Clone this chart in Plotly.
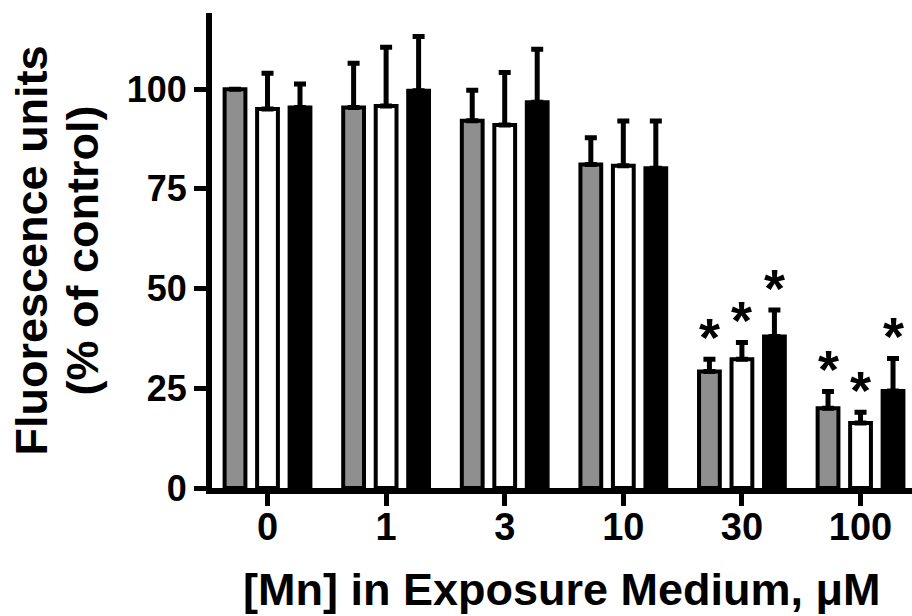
import plotly.graph_objects as go

categories = ["0", "1", "3", "10", "30", "100"]
series_names = ["A", "B", "C"]
gray_vals = [100, 95.4, 92.1, 81.1, 29.2, 20.0]
gray_err = [0, 11.1, 7.6, 6.7, 3.1, 4.2]
white_vals = [95.0, 95.8, 91.0, 80.8, 32.3, 16.3]
white_err = [9.0, 14.7, 13.2, 11.2, 4.2, 2.7]
black_vals = [95.4, 99.6, 96.7, 80.2, 38.0, 24.3]
black_err = [5.9, 13.6, 13.3, 11.8, 6.6, 8.2]
# significance markers (1 = asterisk)
gray_sig = [0, 0, 0, 0, 1, 1]
white_sig = [0, 0, 0, 0, 1, 1]
black_sig = [0, 0, 0, 0, 1, 1]

fills = ["#8f8f8f", "#ffffff", "#000000"]
vals = [gray_vals, white_vals, black_vals]
errs = [gray_err, white_err, black_err]
sigs = [gray_sig, white_sig, black_sig]

FONT = "Liberation Sans, Arial, sans-serif"
BARGAP = 0.178

fig = go.Figure()
for name, v, e, c in zip(series_names, vals, errs, fills):
    fig.add_trace(go.Bar(
        x=categories, y=v, name=name,
        marker=dict(color=c, line=dict(color="black", width=4)),
        error_y=dict(type="data", array=e, arrayminus=[0] * len(e), symmetric=False,
                     color="black", thickness=5, width=6),
    ))

slot = (1 - BARGAP) / 3
annotations = []
for si, (v, e, s) in enumerate(zip(vals, errs, sigs)):
    for ci, flag in enumerate(s):
        if flag:
            annotations.append(dict(
                x=ci + (si - 1) * slot, y=v[ci] + e[ci], xref="x", yref="y",
                text="*", showarrow=False, yanchor="middle", xanchor="center",
                yshift=22, font=dict(family=FONT, size=54, color="black", weight="bold"),
            ))

annotations.append(dict(
    x=0.5, y=0, xref="paper", yref="paper", yanchor="top", xanchor="center",
    yshift=-74, text="[Mn] in Exposure Medium, \u03bcM", showarrow=False,
    font=dict(family=FONT, size=45, color="black", weight="bold"),
))
annotations.append(dict(
    x=(31 - 212) / 700, y=0.5, xref="paper", yref="paper", xanchor="center", yanchor="middle",
    text="Fluorescence units", textangle=-90, showarrow=False,
    font=dict(family=FONT, size=45, color="black", weight="bold"),
))
annotations.append(dict(
    x=(82 - 212) / 700, y=0.5, xref="paper", yref="paper", xanchor="center", yanchor="middle",
    text="(% of control)", textangle=-90, showarrow=False,
    font=dict(family=FONT, size=45, color="black", weight="bold"),
))

fig.update_layout(
    width=912, height=616,
    margin=dict(l=212, r=0, t=13, b=128, pad=0),
    barmode="group", bargap=BARGAP, bargroupgap=0.36,
    showlegend=False,
    plot_bgcolor="white", paper_bgcolor="white",
    annotations=annotations,
    font=dict(family=FONT, color="black"),
)
fig.update_xaxes(
    type="category", range=[-0.468, 5.434],
    showline=True, linecolor="black", linewidth=6,
    ticks="outside", ticklen=12, tickwidth=5, tickcolor="black",
    ticklabelstandoff=-12,
    tickfont=dict(family=FONT, size=38, color="black", weight="bold"),
    showgrid=False, zeroline=False,
)
fig.update_yaxes(
    range=[0, 119.1], tickvals=[0, 25, 50, 75, 100],
    showline=True, linecolor="black", linewidth=6,
    ticks="outside", ticklen=12, tickwidth=5, tickcolor="black",
    tickfont=dict(family=FONT, size=36, color="black", weight="bold"),
    showgrid=False, zeroline=False,
)

fig.write_html("out.html", config={"displayModeBar": False},
               post_script="document.body.style.margin='0px';")
